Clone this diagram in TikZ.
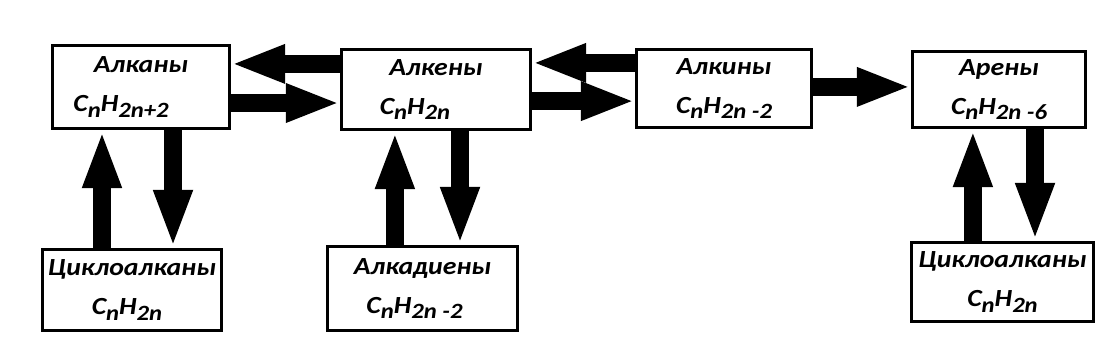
\documentclass[tikz,border=0pt]{standalone}
\usepackage{fontspec}
\setmainfont{Carlito}[FakeStretch=1.13]
\usetikzlibrary{arrows.meta, positioning}

% lowered index in the formulas
\newcommand{\lowidx}[1]{\raisebox{-0.22em}{\fontsize{15.5}{15.5}\selectfont #1}}

\begin{document}
\begin{tikzpicture}[
  x=0.025cm, y=-0.025cm,
  font=\bfseries\itshape\fontsize{17.5}{28}\selectfont,
  grp/.style={draw=black, line width=2.2pt, fill=white, align=center, inner sep=0pt},
  blk/.style={-{Triangle[length=1.35cm, width=0.88cm]}, line width=0.45cm, draw=black},
  vblk/.style={blk, -{Triangle[length=1.45cm, width=0.88cm]}},
]
\useasboundingbox (0,0) rectangle (1111,344);

\node[grp, minimum width=4.425cm, minimum height=2.075cm] (alkany) at (141,87)
  {Алканы\\C\lowidx{n}H\lowidx{2n+2}\kern1cm};
\node[grp, minimum width=4.725cm, minimum height=2.0cm] (alkeny) at (436,89.5)
  {Алкены\\C\lowidx{n}H\lowidx{2n}\kern1.05cm};
\node[grp, minimum width=4.375cm, minimum height=1.95cm] (alkiny) at (724,88.5)
  {Алкины\\C\lowidx{n}H\lowidx{2n -2}};
\node[grp, minimum width=4.325cm, minimum height=1.9cm] (areny) at (999,89.5)
  {Арены\\C\lowidx{n}H\lowidx{2n -6}};
\node[grp, minimum width=4.475cm, minimum height=2.025cm] (cyclo1) at (132,290)
  {Циклоалканы\\C\lowidx{n}H\lowidx{2n}\kern0.25cm};
\node[grp, minimum width=4.75cm, minimum height=2.1cm] (alkadieny) at (422.5,288.5)
  {Алкадиены\\C\lowidx{n}H\lowidx{2n -2}\kern0.4cm};
\node[grp, minimum width=4.55cm, minimum height=1.975cm] (cyclo2) at (1002.5,282)
  {Циклоалканы\\C\lowidx{n}H\lowidx{2n}};

% top row
\draw[blk] ([yshift=0.64cm]alkeny.west) -- ([yshift=0.64cm]alkeny.west -| alkany.east);
\draw[blk] ([yshift=-0.4cm]alkany.east) -- ([yshift=-0.4cm]alkany.east -| alkeny.west);
\draw[blk] ([yshift=0.64cm]alkiny.west) -- ([yshift=0.64cm]alkiny.west -| alkeny.east);
\draw[blk] ([yshift=-0.29cm]alkeny.east) -- ([yshift=-0.29cm]alkeny.east -| alkiny.west);
\draw[blk] ([yshift=0.04cm]alkiny.east) -- ([yshift=0.04cm]alkiny.east -| areny.west);
% up and down
\draw[vblk] ([xshift=-0.75cm]cyclo1.north) -- ([xshift=-0.75cm]cyclo1.north |- alkany.south);
\draw[vblk] ([xshift=0.8cm]alkany.south) -- ([xshift=0.8cm]alkany.south |- cyclo1.north);
\draw[vblk] ([xshift=-0.69cm]alkadieny.north) -- ([xshift=-0.69cm]alkadieny.north |- alkeny.south);
\draw[vblk] ([xshift=0.6cm]alkeny.south) -- ([xshift=0.6cm]alkeny.south |- alkadieny.north);
\draw[vblk] ([xshift=-0.74cm]cyclo2.north) -- ([xshift=-0.74cm]cyclo2.north |- areny.south);
\draw[vblk] ([xshift=0.9cm]areny.south) -- ([xshift=0.9cm]areny.south |- cyclo2.north);
\end{tikzpicture}
\end{document}
